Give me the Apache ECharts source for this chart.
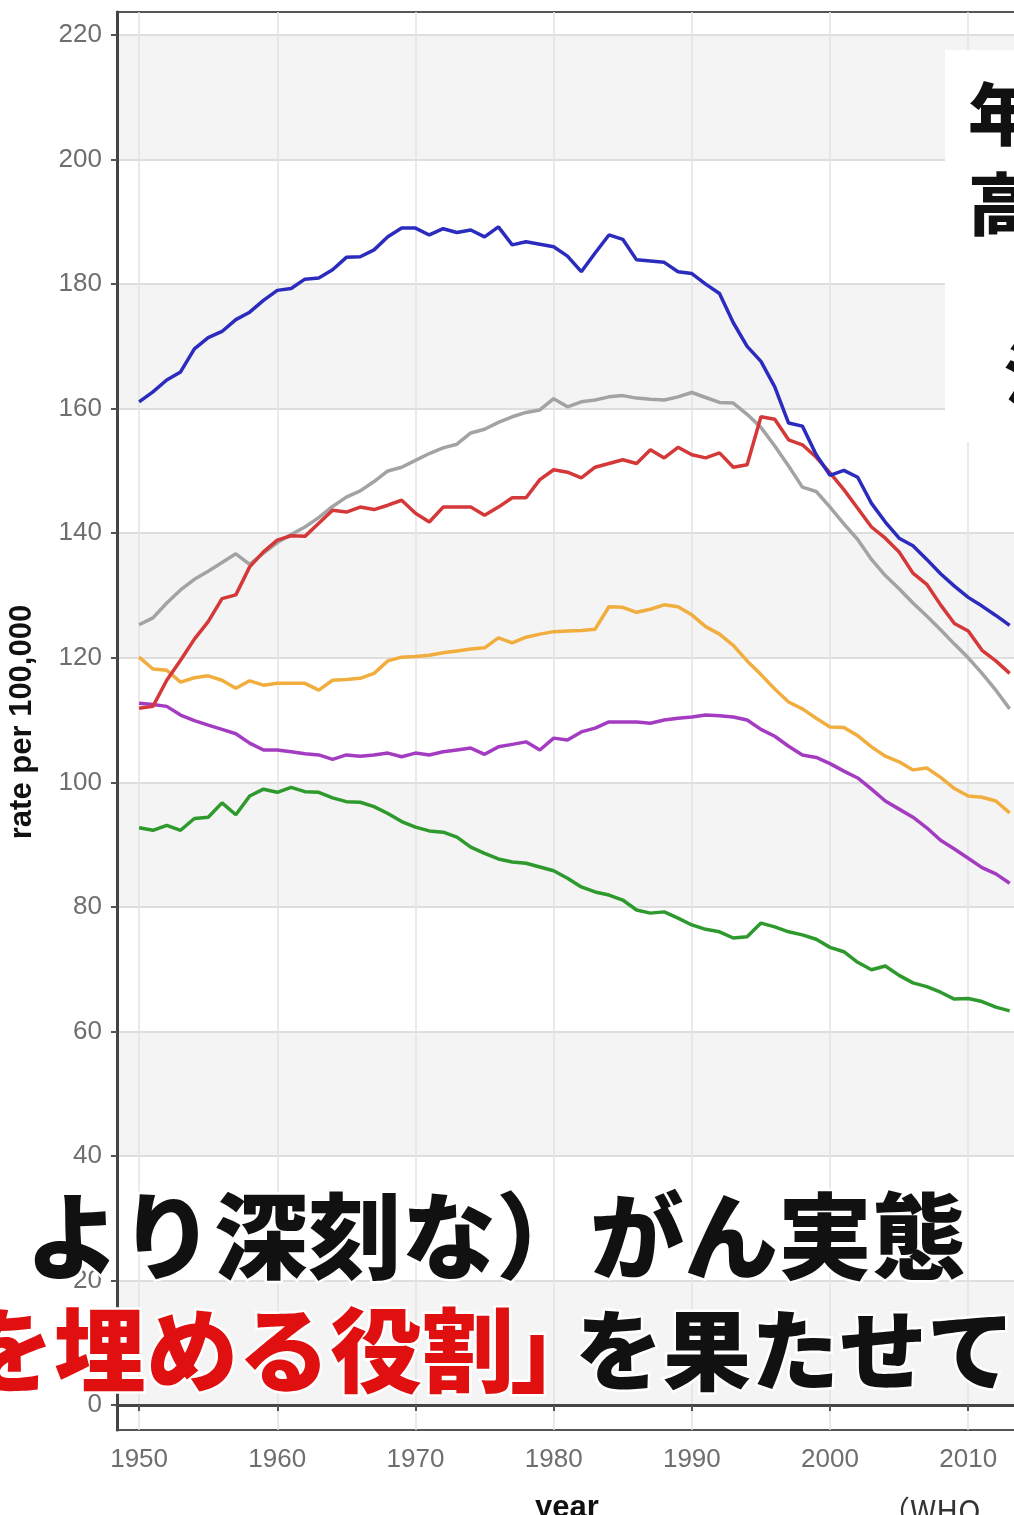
<!DOCTYPE html>
<html>
<head>
<meta charset="utf-8">
<script src="https://cdn.jsdelivr.net/npm/echarts@6/dist/echarts.min.js"></script>
<style>
  html, body { margin: 0; padding: 0; background: #fff; }
  #chart { width: 1014px; height: 1515px; }
</style>
</head>
<body>
<div id="chart"></div>
<script>
// years 1950-2013, rate per 100,000
const years = [
  1950, 1951, 1952, 1953, 1954, 1955, 1956, 1957, 1958, 1959,
  1960, 1961, 1962, 1963, 1964, 1965, 1966, 1967, 1968, 1969,
  1970, 1971, 1972, 1973, 1974, 1975, 1976, 1977, 1978, 1979,
  1980, 1981, 1982, 1983, 1984, 1985, 1986, 1987, 1988, 1989,
  1990, 1991, 1992, 1993, 1994, 1995, 1996, 1997, 1998, 1999,
  2000, 2001, 2002, 2003, 2004, 2005, 2006, 2007, 2008, 2009,
  2010, 2011, 2012, 2013
];

const blueRate = [
  161.1, 162.7, 164.6, 165.9, 169.6, 171.4, 172.4, 174.3, 175.5, 177.4,
  179.0, 179.3, 180.8, 181.0, 182.3, 184.3, 184.4, 185.5, 187.6, 189.0,
  189.0, 187.9, 188.9, 188.3, 188.7, 187.6, 189.2, 186.3, 186.8, 186.4,
  186.0, 184.5, 182.0, 185.0, 187.9, 187.2, 183.9, 183.7, 183.5, 182.0,
  181.7, 180.0, 178.5, 173.8, 170.0, 167.6, 163.5, 157.7, 157.2, 152.6,
  149.3, 150.1, 149.0, 144.8, 141.8, 139.2, 138.0, 135.8, 133.5, 131.5,
  129.7, 128.3, 126.8, 125.2
];

const grayRate = [
  125.3, 126.4, 128.8, 130.9, 132.6, 133.9, 135.3, 136.7, 135.0, 136.8,
  138.5, 139.8, 141.0, 142.5, 144.3, 145.8, 146.8, 148.3, 150.0, 150.6,
  151.7, 152.8, 153.7, 154.3, 156.1, 156.7, 157.8, 158.7, 159.4, 159.8,
  161.6, 160.3, 161.1, 161.4, 161.9, 162.1, 161.7, 161.5, 161.4, 161.9,
  162.6, 161.8, 161.0, 160.9, 159.1, 157.0, 154.0, 150.8, 147.4, 146.7,
  144.2, 141.5, 139.0, 135.8, 133.2, 131.1, 128.8, 126.7, 124.5, 122.2,
  120.0, 117.5, 114.8, 111.8
];

const redRate = [
  111.9, 112.2, 116.4, 119.6, 123.0, 125.8, 129.5, 130.1, 134.6, 137.0,
  138.9, 139.6, 139.5, 141.6, 143.7, 143.4, 144.2, 143.8, 144.5, 145.3,
  143.2, 141.8, 144.2, 144.2, 144.2, 142.9, 144.2, 145.7, 145.7, 148.6,
  150.2, 149.8, 148.9, 150.6, 151.2, 151.8, 151.2, 153.4, 152.1, 153.8,
  152.6, 152.1, 152.9, 150.6, 151.0, 158.7, 158.3, 155.0, 154.2, 152.2,
  149.7, 147.0, 144.0, 141.0, 139.2, 137.0, 133.6, 131.8, 128.5, 125.5,
  124.3, 121.2, 119.5, 117.5
];

const orangeRate = [
  120.1, 118.2, 118.0, 116.1, 116.8, 117.1, 116.4, 115.1, 116.3, 115.6,
  115.9, 115.9, 115.9, 114.8, 116.4, 116.5, 116.7, 117.5, 119.5, 120.1,
  120.2, 120.4, 120.8, 121.1, 121.4, 121.6, 123.2, 122.4, 123.3, 123.8,
  124.2, 124.3, 124.4, 124.6, 128.2, 128.1, 127.3, 127.8, 128.5, 128.2,
  126.9, 125.0, 123.8, 122.0, 119.5, 117.3, 115.0, 112.9, 111.8, 110.3,
  108.9, 108.8, 107.5, 105.7, 104.2, 103.3, 102.0, 102.3, 100.8, 99.0,
  97.8, 97.6, 97.0, 95.1
];

const purpleRate = [
  112.7, 112.5, 112.2, 110.8, 109.9, 109.2, 108.5, 107.8, 106.3, 105.2,
  105.2, 104.9, 104.6, 104.4, 103.7, 104.4, 104.2, 104.4, 104.7, 104.1,
  104.7, 104.4, 104.9, 105.2, 105.5, 104.5, 105.7, 106.1, 106.5, 105.2,
  107.1, 106.8, 108.1, 108.7, 109.7, 109.7, 109.7, 109.5, 110.0, 110.3,
  110.5, 110.8, 110.7, 110.5, 110.0, 108.5, 107.4, 105.8, 104.4, 104.0,
  103.0, 101.8, 100.7, 98.9, 97.0, 95.7, 94.4, 92.7, 90.7, 89.3,
  87.8, 86.3, 85.3, 83.8
];

const greenRate = [
  92.7, 92.3, 93.1, 92.3, 94.2, 94.4, 96.7, 94.8, 97.8, 98.9,
  98.4, 99.2, 98.5, 98.4, 97.5, 96.9, 96.8, 96.1, 95.0, 93.7,
  92.8, 92.2, 92.0, 91.2, 89.6, 88.6, 87.7, 87.2, 87.0, 86.4,
  85.8, 84.6, 83.2, 82.4, 81.9, 81.1, 79.5, 79.0, 79.2, 78.2,
  77.1, 76.4, 76.0, 75.0, 75.2, 77.4, 76.8, 76.0, 75.5, 74.8,
  73.5, 72.8, 71.1, 69.9, 70.5, 69.0, 67.8, 67.2, 66.3, 65.2,
  65.3, 64.8, 63.9, 63.3
];

const xTicks = [1950, 1960, 1970, 1980, 1990, 2000, 2010];
const yTicks = [0, 20, 40, 60, 80, 100, 120, 140, 160, 180, 200, 220];

const chart = echarts.init(document.getElementById('chart'));

const pairs = vals => years.map((y, i) => [y, vals[i]]);

const line = (name, vals, color) => ({
  name,
  type: 'line',
  data: pairs(vals),
  symbol: 'none',
  lineStyle: { width: 3.5, color },
  itemStyle: { color },
  z: 3,
});

const jpFont = '"Noto Sans CJK JP", sans-serif';
const labelFont = { color: '#6e6e6e', fontSize: 26, fontFamily: 'Liberation Sans' };

chart.setOption({
  backgroundColor: '#fff',
  animation: false,
  grid: {
    left: 117,
    right: -3,
    top: 12,
    bottom: 85,
    show: true,
    borderColor: '#555',
    borderWidth: 2,
    outerBoundsMode: 'none',
  },
  xAxis: {
    type: 'value',
    min: 1948.4,
    max: 2013.53,
    splitNumber: 6,
    minInterval: 10,
    maxInterval: 10,
    name: 'year',
    nameLocation: 'middle',
    nameGap: 63,
    nameTextStyle: { color: '#111', fontSize: 31, fontWeight: 'bold', fontFamily: 'Liberation Sans' },
    axisLine: { show: true, lineStyle: { color: '#444', width: 3 } },
    axisTick: { show: true, customValues: xTicks, length: 6, lineStyle: { color: '#555', width: 2 } },
    axisLabel: { customValues: xTicks, margin: 17, ...labelFont, formatter: v => String(v) },
    splitLine: { show: true, lineStyle: { color: '#e3e3e3', width: 1.5 } },
  },
  yAxis: {
    type: 'value',
    min: -4,
    max: 223.7,
    splitNumber: 11,
    minInterval: 20,
    maxInterval: 20,
    axisLine: { show: true, lineStyle: { color: '#444', width: 3 } },
    axisTick: { show: true, customValues: yTicks, length: 6, lineStyle: { color: '#555', width: 2 } },
    axisLabel: { customValues: yTicks, margin: 15, ...labelFont, formatter: v => String(v) },
    splitLine: { show: true, lineStyle: { color: '#dedede', width: 2 } },
    splitArea: { show: true, areaStyle: { color: ['#f4f4f4', '#ffffff'] } },
  },
  series: [
    line('gray', grayRate, '#a3a3a3'),
    line('green', greenRate, '#2e9a2e'),
    line('purple', purpleRate, '#a43cc2'),
    line('orange', orangeRate, '#f1ae3e'),
    line('red', redRate, '#d43838'),
    line('blue', blueRate, '#2b2bbd'),
  ],
  graphic: [
    {
      type: 'text', z: 60, x: 22, y: 722, rotation: Math.PI / 2,
      style: {
        text: 'rate per 100,000', font: 'bold 31px "Liberation Sans"', fill: '#111',
        align: 'center', verticalAlign: 'middle',
      },
    },
    { type: 'rect', z: 50, shape: { x: 945, y: 50, width: 80, height: 392 }, style: { fill: '#fff' } },
    { type: 'text', z: 60, x: 968, y: 80, style: { text: '年', font: `900 68px ${jpFont}`, fill: '#111' } },
    { type: 'text', z: 60, x: 968, y: 170, style: { text: '高', font: `900 68px ${jpFont}`, fill: '#111' } },
    { type: 'text', z: 60, x: 1004, y: 340, style: { text: '注', font: `900 68px ${jpFont}`, fill: '#111' } },
    {
      type: 'text', z: 60, x: 26, y: 1236,
      style: {
        text: 'より深刻な）がん実態', font: `900 94px ${jpFont}`, fill: '#111',
        verticalAlign: 'middle', align: 'left', stroke: '#fff', lineWidth: 5,
      },
    },
    {
      type: 'text', z: 60, x: 514, y: 1350,
      style: {
        text: 'を埋める役割', font: `900 92px ${jpFont}`, fill: '#e01010',
        verticalAlign: 'middle', align: 'right', stroke: '#fff', lineWidth: 5,
      },
    },
    {
      type: 'text', z: 60, x: 510, y: 1350,
      style: {
        text: '」', font: `900 92px ${jpFont}`, fill: '#e01010',
        verticalAlign: 'middle', align: 'left', stroke: '#fff', lineWidth: 5,
      },
    },
    {
      type: 'text', z: 60, x: 575, y: 1350,
      style: {
        text: 'を果たせて', font: `900 88px ${jpFont}`, fill: '#111',
        verticalAlign: 'middle', align: 'left', stroke: '#fff', lineWidth: 5,
      },
    },
    { type: 'text', z: 60, x: 880, y: 1496, style: { text: '（WHO', font: `30px ${jpFont}`, fill: '#333' } },
  ],
});
</script>
</body>
</html>
